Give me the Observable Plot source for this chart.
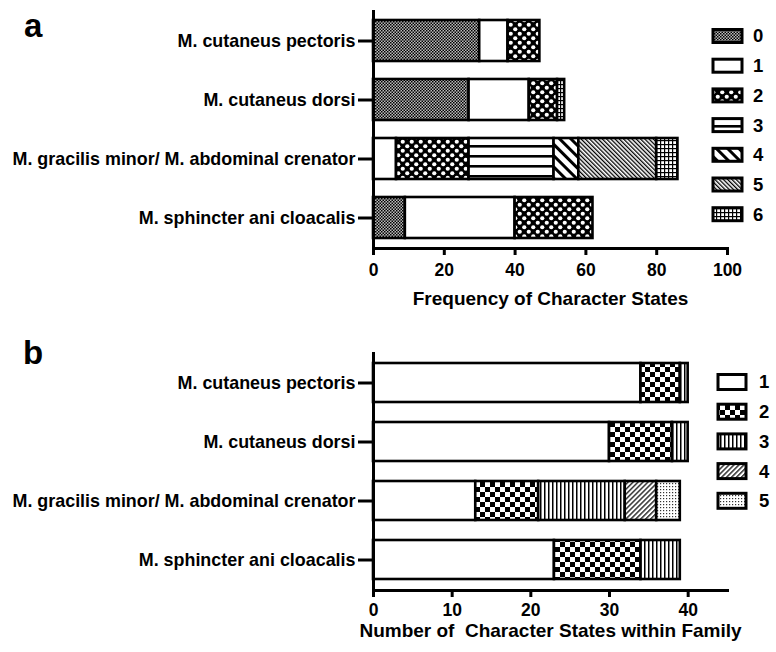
<!DOCTYPE html>
<html><head><meta charset="utf-8">
<script src="https://cdn.jsdelivr.net/npm/d3@7"></script>
<script src="https://cdn.jsdelivr.net/npm/@observablehq/plot@0.6"></script>
<style>
body{margin:0;background:#fff;}
#wrap{position:relative;width:776px;height:652px;overflow:hidden;font-family:'Liberation Sans',Arial,sans-serif;font-weight:bold;}
#wrap > svg{position:absolute;left:0;}
</style></head><body><div id="wrap"></div>
<script>
const muscles = ["M. cutaneus pectoris","M. cutaneus dorsi","M. gracilis minor/ M. abdominal crenator","M. sphincter ani cloacalis"];

// Panel a: frequency of character states (per state, values for each muscle above)
const statesA = ["0","1","2","3","4","5","6"];
const a0 = [30, 27, 0, 9];
const a1 = [8, 17, 6.5, 31];
const a2 = [9, 8, 20.5, 22];
const a3 = [0, 0, 24, 0];
const a4 = [0, 0, 7, 0];
const a5 = [0, 0, 22, 0];
const a6 = [0, 2, 6, 0];
const ticksA = [0, 20, 40, 60, 80, 100];
const titleA = "Frequency of Character States";

// Panel b: number of character states within family
const statesB = ["1","2","3","4","5"];
const b1 = [34, 30, 13, 23];
const b2 = [5, 8, 8, 11];
const b3 = [1, 2, 11, 5];
const b4 = [0, 0, 4, 0];
const b5 = [0, 0, 3, 0];
const ticksB = [0, 10, 20, 30, 40];
const titleB = "Number of  Character States within Family";

const seriesA = [a0,a1,a2,a3,a4,a5,a6];
const seriesB = [b1,b2,b3,b4,b5];
const dataA = statesA.flatMap((s,i)=>muscles.map((m,j)=>({muscle:m,state:s,value:seriesA[i][j]}))).filter(d=>d.value>0);
const dataB = statesB.flatMap((s,i)=>muscles.map((m,j)=>({muscle:m,state:s,value:seriesB[i][j]}))).filter(d=>d.value>0);
const fillA = statesA.map(s => s==="1" ? "white" : `url(#pa${s})`);
const fillB = statesB.map(s => s==="1" ? "white" : `url(#pb${s})`);

const wrap = document.getElementById("wrap");
const font = "'Liberation Sans', Arial, sans-serif";

function panel(data, states, fills, xdom, ticks, title, titleDy, tickPad, height, marginTop, marginBottom, pIn, pOut) {
  return Plot.plot({
    width: 776, height, marginLeft: 373, marginRight: 49, marginTop, marginBottom,
    style: {fontFamily: font, fontWeight: "bold", color: "#000", background: "transparent", overflow: "visible"},
    x: {domain: xdom},
    y: {domain: muscles, paddingInner: pIn, paddingOuter: pOut},
    color: {domain: states, range: fills},
    marks: [
      Plot.barX(data, Plot.stackX({x: "value", y: "muscle", fill: "state", stroke: "#000", strokeWidth: 2.6})),
      Plot.ruleX([0], {strokeWidth: 3}),
      Plot.frame({anchor: "bottom", strokeWidth: 3}),
      Plot.axisY({tickSize: 15, tickPadding: 3, strokeWidth: 3, label: null, fontSize: 17.9}),
      Plot.axisX({ticks, tickSize: 7, tickPadding: tickPad, strokeWidth: 3, label: null, fontSize: 17.5}),
      Plot.text([title], {frameAnchor: "bottom", dy: titleDy, fontSize: 19, fontWeight: "bold"})
    ]
  });
}

const pa = panel(dataA, statesA, fillA, [0,100], ticksA, titleA, 56, 8, 320, 10, 72, 0.3, 0.15);
pa.style.top = "0px";
wrap.appendChild(pa);
const pb = panel(dataB, statesB, fillB, [0,45], ticksB, titleB, 46, 6, 310, 10, 62, 0.34, 0.18);
pb.style.top = "342px";
wrap.appendChild(pb);

// overlay: pattern defs, legends, panel letters
const ov = d3.create("svg").attr("width", 776).attr("height", 652).style("top","0px").style("pointer-events","none")
  .attr("font-family", font).attr("font-weight", "bold");
const defs = ov.append("defs");
function pat(id, w, h, build, transform) {
  const p = defs.append("pattern").attr("id", id).attr("patternUnits","userSpaceOnUse").attr("width", w).attr("height", h);
  if (transform) p.attr("patternTransform", transform);
  build(p);
}
pat("pa0", 3, 3, p => { p.append("rect").attr("width",3).attr("height",3).attr("fill","#bbb");
  p.append("rect").attr("width",1.5).attr("height",1.5).attr("fill","#000");
  p.append("rect").attr("x",1.5).attr("y",1.5).attr("width",1.5).attr("height",1.5).attr("fill","#000"); });
pat("pa2", 9, 9, p => { p.append("rect").attr("width",9).attr("height",9).attr("fill","#000");
  p.append("circle").attr("cx",2.25).attr("cy",2.25).attr("r",2.1).attr("fill","#fff");
  p.append("circle").attr("cx",6.75).attr("cy",6.75).attr("r",2.1).attr("fill","#fff"); });
pat("pa3", 10, 10, p => { p.append("rect").attr("width",10).attr("height",10).attr("fill","#fff");
  p.append("rect").attr("y",5).attr("width",10).attr("height",2.6).attr("fill","#000"); });
pat("pa4", 8, 8, p => { p.append("rect").attr("width",8).attr("height",8).attr("fill","#fff");
  p.append("rect").attr("width",3).attr("height",8).attr("fill","#000"); }, "rotate(-45)");
pat("pa5", 3, 3, p => { p.append("rect").attr("width",3).attr("height",3).attr("fill","#fff");
  p.append("rect").attr("width",1.3).attr("height",3).attr("fill","#000"); }, "rotate(-45)");
pat("pa6", 4, 4, p => { p.append("rect").attr("width",4).attr("height",4).attr("fill","#fff");
  p.append("rect").attr("width",1.2).attr("height",4).attr("fill","#000");
  p.append("rect").attr("width",4).attr("height",1.2).attr("fill","#000"); });
pat("pb2", 10, 10, p => { p.append("rect").attr("width",10).attr("height",10).attr("fill","#fff");
  p.append("rect").attr("width",5).attr("height",5).attr("fill","#000");
  p.append("rect").attr("x",5).attr("y",5).attr("width",5).attr("height",5).attr("fill","#000"); });
pat("pb3", 4, 4, p => { p.append("rect").attr("width",4).attr("height",4).attr("fill","#fff");
  p.append("rect").attr("width",1.5).attr("height",4).attr("fill","#000"); });
pat("pb4", 3.5, 3.5, p => { p.append("rect").attr("width",3.5).attr("height",3.5).attr("fill","#fff");
  p.append("rect").attr("width",1.4).attr("height",3.5).attr("fill","#222"); }, "rotate(45)");
pat("pb5", 3, 3, p => { p.append("rect").attr("width",3).attr("height",3).attr("fill","#fff");
  p.append("rect").attr("width",1.2).attr("height",1.2).attr("fill","#333"); });

function legend(states, fills, x, y0, step, w, h, lx) {
  states.forEach((s, i) => {
    const cy = y0 + step * i;
    ov.append("rect").attr("x", x).attr("y", cy - h/2).attr("width", w).attr("height", h)
      .attr("fill", fills[i]).attr("stroke", "#000").attr("stroke-width", 3);
    ov.append("text").attr("x", lx).attr("y", cy).attr("dy", "0.35em").attr("font-size", 18.5).text(s);
  });
}
legend(statesA, fillA, 713, 36, 29.7, 29, 13, 753);
legend(statesB, fillB, 718, 382, 29.7, 28, 15, 759);

ov.append("text").attr("x", 24).attr("y", 37).attr("font-size", 33).text("a");
ov.append("text").attr("x", 23).attr("y", 364).attr("font-size", 33).text("b");
wrap.appendChild(ov.node());
</script></body></html>
